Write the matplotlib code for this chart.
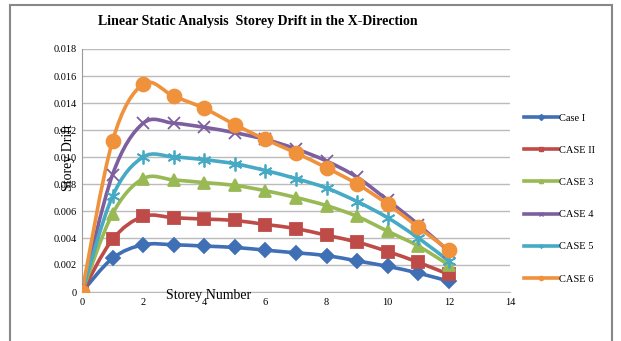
import numpy as np
import matplotlib.pyplot as plt
from matplotlib.path import Path
from matplotlib.patches import PathPatch, Rectangle
from matplotlib.lines import Line2D

plt.rcParams['font.family'] = ['Liberation Serif', 'DejaVu Serif']

# Storey drift values
storeys = [0, 1, 2, 3, 4, 5, 6, 7, 8, 9, 10, 11, 12]
case_1 = [0, 0.0025, 0.0035, 0.0035, 0.0034, 0.0033, 0.0031, 0.0029, 0.0027, 0.0023, 0.0019, 0.0014, 0.0008]
case_2 = [0, 0.0039, 0.0056, 0.0055, 0.0054, 0.0053, 0.0050, 0.0047, 0.0042, 0.0037, 0.0030, 0.0022, 0.0013]
case_3 = [0, 0.0058, 0.0084, 0.0083, 0.0081, 0.0079, 0.0075, 0.0070, 0.0064, 0.0056, 0.0045, 0.0034, 0.0020]
case_4 = [0, 0.0087, 0.0125, 0.0125, 0.0122, 0.0118, 0.0113, 0.0106, 0.0097, 0.0085, 0.0068, 0.0050, 0.0030]
case_5 = [0, 0.0071, 0.0100, 0.0100, 0.0098, 0.0095, 0.0090, 0.0084, 0.0077, 0.0067, 0.0055, 0.0040, 0.0023]
case_6 = [0, 0.0112, 0.0154, 0.0145, 0.0136, 0.0124, 0.0113, 0.0103, 0.0092, 0.0080, 0.0065, 0.0048, 0.0031]

labels = ['Case I', 'CASE II', 'CASE 3', 'CASE 4', 'CASE 5', 'CASE 6']
series = [case_1, case_2, case_3, case_4, case_5, case_6]
colors = ['#3F6FB5', '#BE4B48', '#98B954', '#7D5FA0', '#46AAC5', '#F0913C']
markers = ['D', 's', '^', 'x', (6, 2, 0), 'o']
msizes = [7, 9, 8, 9, 10, 10]


def smooth_path(x, y, t=1 / 6):
    # Excel-style smoothed line as cubic bezier segments through the points
    verts = [(x[0], y[0])]
    codes = [Path.MOVETO]
    n = len(x)
    for i in range(n - 1):
        x0, y0 = (x[i - 1], y[i - 1]) if i > 0 else (x[i], y[i])
        x3, y3 = (x[i + 2], y[i + 2]) if i + 2 < n else (x[i + 1], y[i + 1])
        c1 = (x[i] + (x[i + 1] - x0) * t, y[i] + (y[i + 1] - y0) * t)
        c2 = (x[i + 1] - (x3 - x[i]) * t, y[i + 1] - (y3 - y[i]) * t)
        verts += [c1, c2, (x[i + 1], y[i + 1])]
        codes += [Path.CURVE4] * 3
    return Path(verts, codes)


fig = plt.figure(figsize=(6.21, 3.41), dpi=100)
ax = fig.add_axes([82 / 621, 1 - 292 / 341, (510 - 82) / 621, (292 - 49) / 341])

for vals, lab, col, mk, ms in zip(series, labels, colors, markers, msizes):
    patch = PathPatch(smooth_path(storeys, vals), fill=False, edgecolor=col, lw=2.6, zorder=2)
    ax.add_patch(patch)
    ax.plot(storeys, vals, linestyle='none', marker=mk, markersize=ms, color=col,
            markeredgecolor=col, markeredgewidth=1.3, zorder=3)

ax.set_xlim(0, 14)
ax.set_ylim(0, 0.018)
ax.set_xticks(range(0, 15, 2))
ax.set_yticks(np.arange(0, 0.0181, 0.002))
ax.set_yticklabels(['0'] + [f'{v:.3f}' for v in np.arange(0.002, 0.0181, 0.002)])
ax.tick_params(labelsize=7.5, length=0, pad=4)
ax.grid(axis='y', color='#BBBBBB', lw=1)
ax.set_axisbelow(True)
for s in ['top', 'right']:
    ax.spines[s].set_visible(False)
ax.spines['left'].set_color('#999999')
ax.spines['bottom'].set_color('#BBBBBB')

fig.text(166 / 621, 1 - 296 / 341, 'Storey Number', fontsize=10, va='center', ha='left', zorder=5)
fig.text(68 / 621, 1 - 158 / 341, 'Storey Drift', rotation=90, fontsize=10, va='center', ha='center')
fig.text(258 / 621, 1 - 22 / 341, 'Linear Static Analysis  Storey Drift in the X-Direction',
         fontsize=10, fontweight='bold', ha='center', va='center')

handles = [Line2D([0], [0], color=c, lw=2.6, marker=m, markersize=3) for c, m in zip(colors, markers)]
fig.legend(handles, labels, loc='upper left', bbox_to_anchor=(515 / 621, 1 - 104 / 341),
           frameon=False, fontsize=7.5, handlelength=3.2, labelspacing=2.2, handletextpad=0.1)

fig.add_artist(Rectangle((10 / 621, -0.02), 602 / 621, 1 - 5 / 341 + 0.02, transform=fig.transFigure,
                         fill=False, edgecolor='#888888', lw=1.5))

fig.savefig('out.png', dpi=100)
